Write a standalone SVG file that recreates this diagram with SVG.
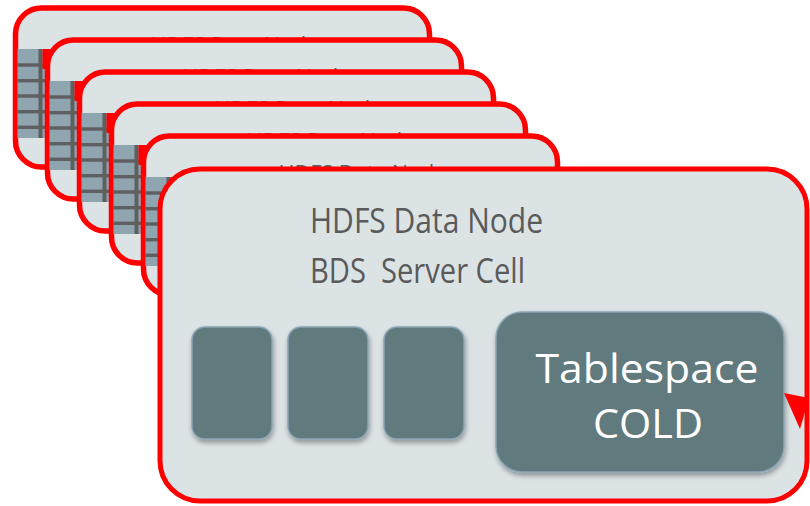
<svg xmlns="http://www.w3.org/2000/svg" width="810" height="506" viewBox="0 0 810 506">
<defs>
<style>
.card{fill:#dce3e5;stroke:#ff0000;stroke-width:5.5}
.front{fill:#dce3e5;stroke:#ff0000;stroke-width:5}
.strip{fill:#8fa6b1}
.dk{fill:#5f5f5f}
.red{fill:#ff0000}
.bt{font-family:"Open Sans","Liberation Sans",sans-serif;fill:#5f5f5f;font-size:25px}
.ft{font-family:"Open Sans","Liberation Sans",sans-serif;fill:#5a5a5a;font-size:35px}
.wt{font-family:"Open Sans","Liberation Sans",sans-serif;fill:#ffffff;font-size:41px}
.box{fill:#617a7d;stroke:#8aa5b3;stroke-width:1.5;filter:url(#sh)}
</style>
<filter id="sh" x="-20%" y="-20%" width="140%" height="140%">
<feDropShadow dx="1" dy="3" stdDeviation="2.5" flood-color="#000" flood-opacity="0.35"/>
</filter>
<g id="stripSym">
<rect class="strip" x="2" y="41" width="30" height="89"/>
<rect class="dk" x="23" y="41" width="4" height="89"/>
<rect class="dk" x="2" y="55.3" width="30" height="3.4"/>
<rect class="dk" x="2" y="71" width="30" height="3.4"/>
<rect class="dk" x="2" y="86.3" width="30" height="3.4"/>
<rect class="dk" x="2" y="102" width="30" height="3.4"/>
<rect class="dk" x="2" y="117.6" width="30" height="3.4"/>
<rect class="red" x="27" y="41" width="13" height="20"/>
</g>
</defs>
<g id="node1" transform="translate(15.5,8)">
<rect class="card" x="0" y="0" width="414" height="159" rx="26"/>
<text class="bt" x="135" y="47" textLength="168" lengthAdjust="spacingAndGlyphs">HDFS Data Node</text>
<use href="#stripSym"/>
</g>
<g id="node2" transform="translate(47.5,40)">
<rect class="card" x="0" y="0" width="414" height="159" rx="26"/>
<text class="bt" x="135" y="47" textLength="168" lengthAdjust="spacingAndGlyphs">HDFS Data Node</text>
<use href="#stripSym"/>
</g>
<g id="node3" transform="translate(79.5,72)">
<rect class="card" x="0" y="0" width="414" height="159" rx="26"/>
<text class="bt" x="135" y="47" textLength="168" lengthAdjust="spacingAndGlyphs">HDFS Data Node</text>
<use href="#stripSym"/>
</g>
<g id="node4" transform="translate(111.5,104)">
<rect class="card" x="0" y="0" width="414" height="159" rx="26"/>
<text class="bt" x="135" y="47" textLength="168" lengthAdjust="spacingAndGlyphs">HDFS Data Node</text>
<use href="#stripSym"/>
</g>
<g id="node5" transform="translate(143.5,136)">
<rect class="card" x="0" y="0" width="414" height="159" rx="26"/>
<text class="bt" x="135" y="47" textLength="168" lengthAdjust="spacingAndGlyphs">HDFS Data Node</text>
<use href="#stripSym"/>
</g>
<g id="node6">
<rect class="front" x="160" y="169" width="647" height="332" rx="40"/>
<text class="ft" x="310" y="233" textLength="233" lengthAdjust="spacingAndGlyphs">HDFS Data Node</text>
<text class="ft" x="310" y="283" textLength="215" lengthAdjust="spacingAndGlyphs" xml:space="preserve">BDS  Server Cell</text>
<rect class="box" x="192" y="327" width="80" height="112" rx="13"/>
<rect class="box" x="288" y="327" width="80" height="112" rx="13"/>
<rect class="box" x="384" y="327" width="80" height="112" rx="13"/>
</g>
<g id="node7">
<rect class="box" x="496" y="312" width="288" height="160" rx="26"/>
<text class="wt" x="647" y="383" text-anchor="middle" textLength="223" lengthAdjust="spacingAndGlyphs">Tablespace</text>
<text class="wt" x="648" y="438" text-anchor="middle" textLength="110" lengthAdjust="spacingAndGlyphs">COLD</text>
</g>
<g id="connectors">
<polygon class="red" points="784,393 809,398 800,429"/>
</g>
</svg>
